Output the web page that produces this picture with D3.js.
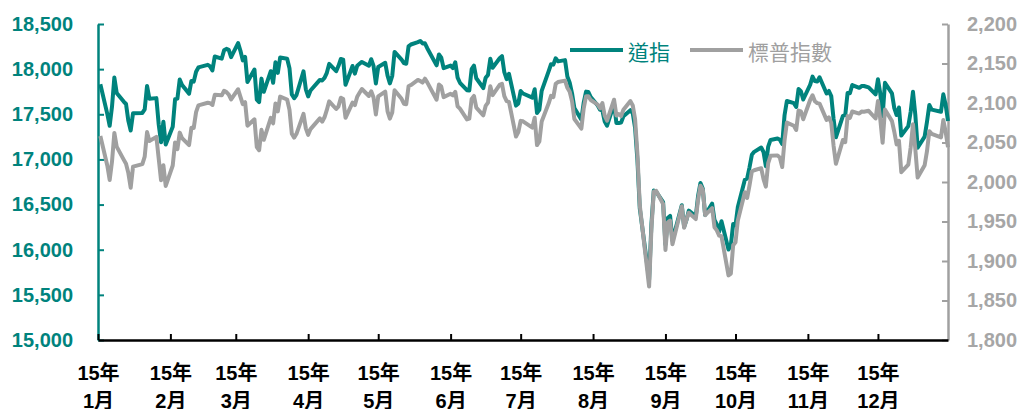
<!DOCTYPE html>
<html>
<head>
<meta charset="utf-8">
<script src="https://cdn.jsdelivr.net/npm/d3@7"></script>
<style>
  html, body { margin: 0; padding: 0; background: #fff; }
  svg text { font-family: "Liberation Sans", Arial, "Noto Sans CJK TC", sans-serif; }
</style>
</head>
<body>
<svg id="chart" width="1022" height="409"></svg>
<script>
// 交易日 (2015)
const dates = [
  "01-02","01-05","01-06","01-07","01-08","01-09","01-12","01-13","01-14","01-15","01-16","01-20","01-21","01-22","01-23","01-26","01-27","01-28","01-29","01-30",
  "02-02","02-03","02-04","02-05","02-06","02-09","02-10","02-11","02-12","02-13","02-17","02-18","02-19","02-20","02-23","02-24","02-25","02-26","02-27",
  "03-02","03-03","03-04","03-05","03-06","03-09","03-10","03-11","03-12","03-13","03-16","03-17","03-18","03-19","03-20","03-23","03-24","03-25","03-26","03-27","03-30","03-31",
  "04-01","04-02","04-06","04-07","04-08","04-09","04-10","04-13","04-14","04-15","04-16","04-17","04-20","04-21","04-22","04-23","04-24","04-27","04-28","04-29","04-30",
  "05-01","05-04","05-05","05-06","05-07","05-08","05-11","05-12","05-13","05-14","05-15","05-18","05-19","05-20","05-21","05-22","05-26","05-27","05-28","05-29",
  "06-01","06-02","06-03","06-04","06-05","06-08","06-09","06-10","06-11","06-12","06-15","06-16","06-17","06-18","06-19","06-22","06-23","06-24","06-25","06-26","06-29","06-30",
  "07-01","07-02","07-06","07-07","07-08","07-09","07-10","07-13","07-14","07-15","07-16","07-17","07-20","07-21","07-22","07-23","07-24","07-27","07-28","07-29","07-30","07-31",
  "08-03","08-04","08-05","08-06","08-07","08-10","08-11","08-12","08-13","08-14","08-17","08-18","08-19","08-20","08-21","08-24","08-25","08-26","08-27","08-28","08-31",
  "09-01","09-02","09-03","09-04","09-08","09-09","09-10","09-11","09-14","09-15","09-16","09-17","09-18","09-21","09-22","09-23","09-24","09-25","09-28","09-29","09-30",
  "10-01","10-02","10-05","10-06","10-07","10-08","10-09","10-12","10-13","10-14","10-15","10-16","10-19","10-20","10-21","10-22","10-23","10-26","10-27","10-28","10-29","10-30",
  "11-02","11-03","11-04","11-05","11-06","11-09","11-10","11-11","11-12","11-13","11-16","11-17","11-18","11-19","11-20","11-23","11-24","11-25","11-27","11-30",
  "12-01","12-02","12-03","12-04","12-07","12-08","12-09","12-10","12-11","12-14","12-15","12-16","12-17","12-18","12-21","12-22","12-23","12-24","12-28","12-29","12-30","12-31"
];

// 道指 (左軸)
const dowValues = [
  17833,17502,17372,17585,17908,17737,17641,17614,17427,17321,17512,17515,17554,17814,17673,17679,17387,17191,17417,17165,
  17361,17666,17673,17885,17824,17729,17869,17862,17972,18019,18048,18030,17986,18140,18117,18209,18225,18214,18133,
  18289,18203,18097,18136,17857,17996,17663,17635,17895,17749,17977,17849,18076,17959,18128,18116,18011,17719,17678,17713,17976,17776,
  17698,17763,17881,17875,17903,17959,18058,17977,18037,18113,18106,17826,18035,17950,18038,18059,18080,18038,18110,18036,17841,
  18024,18070,17928,17842,17924,18191,18105,18068,18060,18252,18273,18299,18312,18285,18286,18232,18042,18163,18126,18011,
  18040,18012,18076,17906,17849,17767,17764,18000,18039,17899,17791,17904,17936,18116,18016,18120,18144,17966,17890,17947,17596,17620,
  17758,17730,17684,17777,17515,17549,17760,17978,18054,18050,18120,18086,18100,17919,17851,17732,17569,17441,17630,17751,17746,17690,
  17598,17551,17540,17420,17373,17615,17403,17403,17408,17477,17545,17511,17349,16991,16460,15871,15666,16286,16655,16643,16528,
  16058,16351,16375,16102,16493,16254,16330,16433,16371,16600,16740,16675,16385,16510,16330,16280,16201,16315,16002,16049,16285,
  16272,16472,16776,16790,16912,17051,17084,17132,17082,16925,17142,17216,17231,17217,17169,17489,17647,17623,17581,17780,17756,17664,
  17829,17918,17868,17863,17910,17730,17758,17702,17448,17245,17483,17490,17737,17733,17824,17793,17812,17813,17798,17720,
  17888,17730,17478,17848,17731,17568,17492,17575,17265,17369,17525,17749,17496,17129,17252,17417,17603,17552,17528,17721,17604,17425
];

// 標普指數 (右軸)
const spxValues = [
  2058.2,2020.6,2002.6,2025.9,2062.1,2044.8,2028.3,2023.0,2011.3,1992.7,2019.4,2022.6,2032.1,2063.2,2051.8,2057.1,2029.6,2002.2,2021.3,1995.0,
  2020.9,2050.0,2041.5,2062.5,2055.5,2046.7,2068.6,2068.5,2088.5,2097.0,2100.3,2099.7,2097.5,2110.3,2109.7,2115.5,2113.9,2110.7,2104.5,
  2117.4,2107.8,2098.5,2101.0,2071.3,2079.4,2044.2,2040.2,2066.0,2053.4,2081.2,2074.3,2099.5,2089.3,2108.1,2104.4,2091.5,2061.1,2056.2,2061.0,2086.2,2067.9,
  2059.7,2067.0,2080.6,2076.3,2081.9,2091.2,2102.1,2092.4,2095.8,2106.6,2105.0,2081.2,2100.4,2097.3,2108.0,2112.9,2117.7,2108.9,2114.8,2106.9,2085.5,
  2108.3,2114.5,2089.5,2080.2,2088.0,2116.1,2105.3,2099.1,2098.5,2121.1,2122.7,2129.2,2127.8,2125.9,2130.8,2126.1,2104.2,2123.5,2120.8,2107.4,
  2111.7,2109.6,2114.1,2095.8,2092.8,2079.3,2080.2,2105.2,2108.9,2094.1,2084.4,2096.3,2100.4,2121.2,2110.0,2122.9,2124.2,2108.6,2102.3,2101.5,2057.6,2063.1,
  2077.4,2076.8,2068.8,2081.3,2046.7,2051.3,2076.6,2099.6,2109.0,2107.4,2124.3,2126.6,2128.3,2119.2,2114.2,2102.2,2079.7,2067.6,2093.3,2108.6,2108.6,2103.8,
  2098.0,2093.3,2099.8,2083.6,2077.6,2104.2,2084.1,2086.1,2083.4,2091.5,2102.4,2096.9,2079.6,2035.7,1970.9,1893.2,1867.6,1940.5,1987.7,1988.9,1972.2,
  1913.9,1948.9,1951.1,1921.2,1969.4,1942.0,1952.3,1961.1,1953.0,1978.1,1995.3,1990.2,1958.0,1967.0,1942.7,1938.8,1932.2,1931.3,1881.8,1884.1,1920.0,
  1923.8,1951.4,1987.1,1979.9,1995.8,2013.4,2014.9,2017.5,2003.7,1994.2,2023.9,2033.1,2033.7,2030.8,2018.9,2052.5,2075.2,2071.2,2065.9,2090.4,2089.4,2079.4,
  2104.1,2109.8,2102.3,2099.9,2099.2,2078.6,2081.7,2075.0,2046.0,2023.0,2053.2,2050.4,2083.6,2081.2,2089.2,2086.6,2089.1,2088.9,2090.1,2080.4,
  2102.6,2079.5,2049.6,2091.7,2077.1,2063.6,2047.6,2052.2,2012.4,2021.9,2043.4,2073.1,2041.9,2005.6,2021.2,2039.0,2064.3,2061.0,2056.5,2078.4,2063.4,2043.9
];

const leftTicks = [15000, 15500, 16000, 16500, 17000, 17500, 18000, 18500];
const rightTicks = [1800, 1850, 1900, 1950, 2000, 2050, 2100, 2150, 2200];
const monthLabels = ["1月","2月","3月","4月","5月","6月","7月","8月","9月","10月","11月","12月"];
const yearLabel = "15年";
const seriesNames = ["道指", "標普指數"];

const teal = "#00837D";
const grey = "#A0A0A0";

const svg = d3.select("#chart");
const margin = { top: 24, right: 74, bottom: 69, left: 98 };
const width = 1022 - margin.left - margin.right;
const height = 409 - margin.top - margin.bottom;

const g = svg.append("g").attr("transform", `translate(${margin.left},${margin.top})`);

const parse = d3.timeParse("%Y-%m-%d");
const rows = dates.map((d, i) => ({ date: parse("2015-" + d), dow: dowValues[i], spx: spxValues[i] }));

const x = d3.scaleTime().domain([new Date(2015, 0, 1), new Date(2015, 11, 31)]).range([0, width]);
const yL = d3.scaleLinear().domain([15000, 18500]).range([height, 0]);
const yR = d3.scaleLinear().domain([1800, 2200]).range([height, 0]);

const fmt = d3.format(",");

// 左軸
const axL = g.append("g")
  .call(d3.axisLeft(yL).tickValues(leftTicks).tickFormat(fmt).tickSizeInner(-6).tickSizeOuter(0).tickPadding(25));
axL.select(".domain").attr("stroke", teal).attr("stroke-width", 2.5);
axL.selectAll(".tick line").attr("stroke", teal).attr("stroke-width", 2);
axL.selectAll(".tick text").attr("fill", teal).attr("font-size", 20).attr("font-weight", "bold");

// 右軸
const axR = g.append("g")
  .attr("transform", `translate(${width},0)`)
  .call(d3.axisRight(yR).tickValues(rightTicks).tickFormat(fmt).tickSizeInner(-6).tickSizeOuter(0).tickPadding(19));
axR.select(".domain").attr("stroke", grey).attr("stroke-width", 2.5);
axR.selectAll(".tick line").attr("stroke", grey).attr("stroke-width", 2);
axR.selectAll(".tick text").attr("fill", "#A6A6A6").attr("font-size", 20).attr("font-weight", "bold");

// 下軸
const monthStarts = d3.range(12).map(m => new Date(2015, m, 1));
const axB = g.append("g")
  .attr("transform", `translate(0,${height})`)
  .call(d3.axisBottom(x).tickValues(monthStarts).tickFormat("").tickSizeInner(-6).tickSizeOuter(0));
axB.select(".domain").attr("stroke", "#000").attr("stroke-width", 2.5);
axB.selectAll(".tick line").attr("stroke", "#000").attr("stroke-width", 2);
axB.selectAll(".tick").each(function (d, i) {
  const t = d3.select(this).append("text")
    .attr("fill", "#000").attr("font-size", 20).attr("font-weight", "bold")
    .attr("text-anchor", "middle");
  t.append("tspan").attr("x", 0).attr("y", 39.5).text(yearLabel);
  t.append("tspan").attr("x", 0).attr("y", 67.5).text(monthLabels[i]);
});

// 線
const lineDow = d3.line().x(d => x(d.date)).y(d => yL(d.dow));
const lineSpx = d3.line().x(d => x(d.date)).y(d => yR(d.spx));

g.append("path").datum(rows)
  .attr("fill", "none").attr("stroke", teal).attr("stroke-width", 4)
  .attr("stroke-linejoin", "round").attr("d", lineDow);
g.append("path").datum(rows)
  .attr("fill", "none").attr("stroke", grey).attr("stroke-width", 4)
  .attr("stroke-linejoin", "round").attr("d", lineSpx);

// 圖例
const legend = svg.append("g");
const legendItems = [
  { name: seriesNames[0], color: teal, x: 570 },
  { name: seriesNames[1], color: grey, x: 690 }
];
legendItems.forEach(it => {
  legend.append("line").attr("x1", it.x).attr("x2", it.x + 53).attr("y1", 50).attr("y2", 50)
    .attr("stroke", it.color).attr("stroke-width", 4);
  legend.append("text").attr("x", it.x + 58).attr("y", 52)
    .attr("dominant-baseline", "central").attr("font-size", 21)
    .attr("fill", it.color).text(it.name);
});
</script>
</body>
</html>
